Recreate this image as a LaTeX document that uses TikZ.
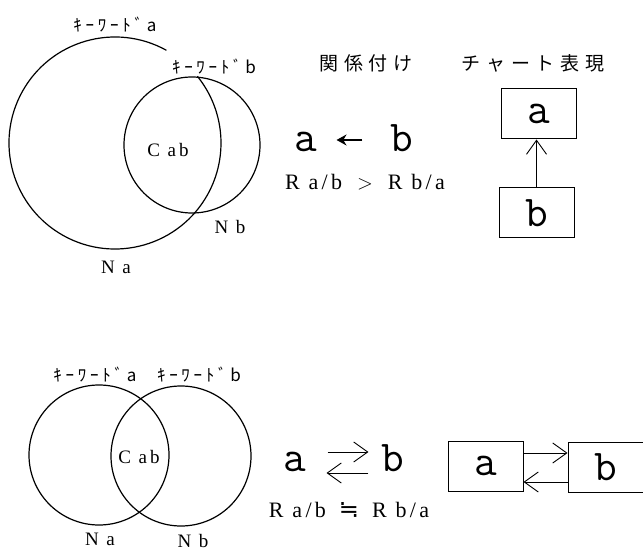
\documentclass[tikz,border=0pt]{standalone}
\usepackage{fontspec}
\setmainfont{Liberation Serif}
\newfontfamily\jpfont[LetterSpace=30]{Noto Sans CJK JP}
\newfontfamily\kwfont[LetterSpace=22]{Noto Sans CJK JP}
\newfontfamily\setfont[LetterSpace=15]{Liberation Serif}
\newfontfamily\symfont{DejaVu Sans}
\usetikzlibrary{arrows.meta}
\tikzset{
    vennline/.style={line width=1.2pt},
    kwlabel/.style={font=\kwfont\fontsize{17}{17}\selectfont,inner sep=0},
    jplabel/.style={font=\jpfont\fontsize{19}{19}\selectfont,inner sep=0},
    setlabel/.style={font=\setfont\fontsize{19}{19}\selectfont,inner sep=0},
    ratio/.style={font=\setfont\fontsize{22}{22}\selectfont,inner sep=0},
    letter/.style={font=\ttfamily\fontsize{44}{44}\selectfont,inner sep=0,anchor=base,text height=26pt,text depth=0pt},
    chartbox/.style={draw,line width=1pt,minimum width=75pt,minimum height=50pt,inner sep=0,font=\ttfamily\fontsize{44}{44}\selectfont},
    barb/.style={-{Straight Barb[length=14pt,width=20pt]},line width=0.9pt}
}

\begin{document}
\begin{tikzpicture}[x=1pt,y=1pt]
        \useasboundingbox (0,0) rectangle (643,-553);

        % upper case: a holds most of b
        \coordinate (ua) at (115,-143);
        \coordinate (ub) at (192,-145);
        \draw[vennline] (ua) ++(61:106) arc[start angle=61,end angle=399,radius=106]; % big circle, open under label b
        \draw[vennline] (ub) circle (68);
        \node[kwlabel] (kwa) at (115,-25) {ｷｰﾜｰﾄﾞa};
        \node[kwlabel] (kwb) at (214,-67) {ｷｰﾜｰﾄﾞb};
        \node[setlabel] (cab) at (168,-150) {C ab};
        \node[setlabel] (nb) at (230,-227) {N b};
        \node[setlabel] (na) at (116,-267) {N a};

        % headings
        \node[jplabel] (rel) at (366,-63) {関係付け};
        \node[jplabel] (chart) at (533,-63) {チャート表現};

        % relation a <- b
        \node[letter] (la) at (306,-152) {a};
        \node[letter] (lb) at (402,-152) {b};
        \draw[-{Stealth[length=10pt,width=11pt]},line width=2pt] ([xshift=-28pt,yshift=-1pt]lb.west) -- ([xshift=19pt,yshift=-1pt]la.east);
        \node[ratio] (rgt) at (365,-182) {R a/b\hspace{15pt}$>$\hspace{15pt}R b/a};

        % chart a <- b
        \node[chartbox] (ca) at (539,-114) {a};
        \node[chartbox] (cb) at (536.5,-213) {b};
        \draw[barb] (cb.north) -- (cb.north |- ca.south);

        % lower case: a and b overlap evenly
        \coordinate (da) at (99,-455);
        \coordinate (db) at (181,-456);
        \draw[vennline] (da) circle (70);
        \draw[vennline] (db) circle (70);
        \node[kwlabel] (kwa2) at (95,-375) {ｷｰﾜｰﾄﾞa};
        \node[kwlabel] (kwb2) at (199,-375) {ｷｰﾜｰﾄﾞb};
        \node[setlabel] (cab2) at (139,-457) {C ab};
        \node[setlabel] (na2) at (100,-539) {N a};
        \node[setlabel] (nb2) at (193,-541) {N b};

        % relation a <-> b
        \node[letter] (pa) at (295,-471) {a};
        \node[letter] (pb) at (393,-471) {b};
        \draw[barb] ([xshift=21pt,yshift=6pt]pa.east) -- ([xshift=-13pt,yshift=6pt]pb.west);
        \draw[barb] ([xshift=-13pt,yshift=-15pt]pb.west) -- ([xshift=20pt,yshift=-15pt]pa.east);
        \node[ratio] (req) at (349,-510) {R a/b\hspace{13pt}{\symfont\fontsize{24}{24}\selectfont ≒}\hspace{13pt}R b/a};

        % chart a <-> b
        \node[chartbox] (ba) at (485.5,-466) {a};
        \node[chartbox] (bb) at (605.5,-467.5) {b};
        \draw[barb] ([yshift=13pt]ba.east) -- ([yshift=13pt]ba.east -| bb.west);
        \draw[barb] ([yshift=-16pt]ba.east -| bb.west) -- ([yshift=-16pt]ba.east);
\end{tikzpicture}
\end{document}
